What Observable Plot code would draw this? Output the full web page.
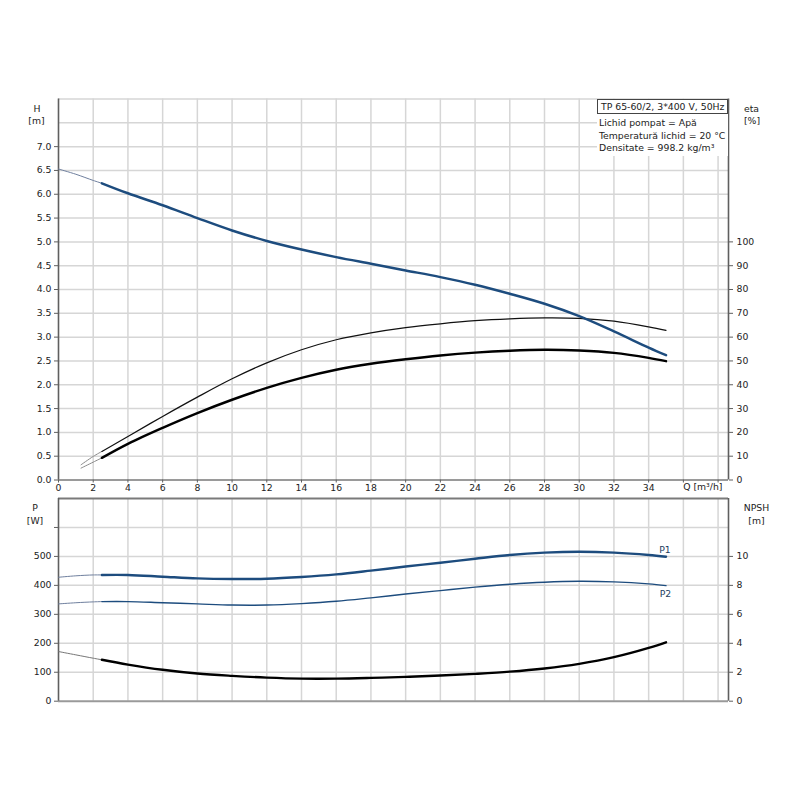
<!DOCTYPE html>
<html><head><meta charset="utf-8">
<script src="https://cdn.jsdelivr.net/npm/d3@7"></script>
<script src="https://cdn.jsdelivr.net/npm/@observablehq/plot@0.6"></script>
<style>
body{margin:0;background:#fff;}
#wrap{position:relative;width:800px;height:800px;font-family:"DejaVu Sans",sans-serif;}
#wrap svg{display:block;}
#info{position:absolute;left:597px;top:99px;width:131px;height:57px;background:#fff;font-size:9.3px;color:#222;line-height:12.5px;}
#info .box{border:1px solid #444;height:13px;line-height:13px;padding-left:3px;margin-bottom:3px;white-space:nowrap;}
#info .ln{padding-left:2px;white-space:nowrap;}
</style>
</head><body>
<div id="wrap"></div>
<script>
// ---- data ----
const qExt = [0, 1, 2, 2.5];
const qEtaExt = [1.3, 2, 2.5];
const qMain = [2.5, 4, 6, 8, 10, 12, 14, 16, 18, 20, 22, 24, 26, 28, 30, 32, 34, 35];

const headExt = [6.53, 6.42, 6.29, 6.23];
const headMain = [6.23, 6.02, 5.77, 5.50, 5.24, 5.02, 4.84, 4.68, 4.54, 4.40, 4.26, 4.10, 3.91, 3.70, 3.44, 3.12, 2.78, 2.62];

const etaPumpExt = [6.4, 9.9, 12.0];
const etaPumpMain = [12.0, 18.3, 26.7, 34.8, 42.5, 49.2, 54.7, 58.9, 61.8, 64.0, 65.6, 66.9, 67.7, 68.1, 67.9, 66.7, 64.3, 62.8];

const etaTotExt = [5.0, 7.5, 9.3];
const etaTotMain = [9.3, 15.2, 21.9, 28.1, 33.7, 38.7, 42.9, 46.3, 48.8, 50.7, 52.3, 53.5, 54.3, 54.7, 54.4, 53.4, 51.3, 49.9];

const p1Ext = [428, 433, 436, 436];
const p1Main = [436, 436, 430, 424, 422, 423, 429, 438, 451, 465, 478, 492, 505, 513, 516, 513, 505, 499];

const p2Ext = [336, 340, 343, 344];
const p2Main = [344, 344, 340, 336, 332, 332, 337, 345, 357, 370, 382, 394, 404, 411, 414, 412, 405, 399];

const npshExt = [3.43, 3.20, 2.97, 2.86];
const npshMain = [2.86, 2.53, 2.17, 1.91, 1.75, 1.63, 1.56, 1.56, 1.61, 1.68, 1.77, 1.89, 2.04, 2.26, 2.58, 3.04, 3.68, 4.07];

// ---- axes ----
const xDomain = [0, 38.6];
const xTicks = d3.range(0, 39, 2);
const hDomain = [0, 8];
const hTicks = d3.range(0, 8.01, 0.5);
const hLabelMax = 7.0;
const etaTicks = d3.range(0, 101, 10);
const etaPerM = 20;           // right axis: eta [%] = 20 x H [m]
const pDomain = [0, 700];
const pTicks = d3.range(0, 701, 100);
const pLabelMax = 500;
const npshTicks = d3.range(0, 11, 2);
const wPerNpsh = 50;          // right axis: NPSH [m] = P [W] / 50

const infoTitle = "TP 65-60/2, 3*400 V, 50Hz";
const infoLines = ["Lichid pompat = Apă", "Temperatură lichid = 20 °C", "Densitate = 998.2 kg/m³"];

const zip = (qs, vs) => qs.map((q, i) => ({q, v: vs[i]}));

const BLUE = "#1d4c7e";
const GRID = "#d6d6d6";
const AX = "#5f5f5f";
const FS = 9.3;
const CURVE = "catmull-rom";
const font = {fontFamily: "DejaVu Sans, sans-serif", fontSize: FS + "px", color: "#222", background: "transparent", overflow: "visible"};

const gridOpts = {stroke: GRID, strokeOpacity: 1, strokeWidth: 1.5};

const topPlot = Plot.plot({
  width: 800, height: 494,
  marginLeft: 58, marginRight: 72, marginTop: 98.5, marginBottom: 14.5,
  style: font,
  x: {domain: xDomain, axis: null},
  y: {domain: hDomain, axis: null},
  marks: [
    Plot.gridX(xTicks.filter(d => d > 0), gridOpts),
    Plot.gridY(hTicks.filter(d => d > 0), gridOpts),
    Plot.ruleY([hDomain[0]], {stroke: "#9a9a9a", strokeWidth: 2}),
    Plot.ruleX([xDomain[0]], {stroke: AX, strokeWidth: 1.6}),
    Plot.ruleX([xDomain[1]], {stroke: AX, strokeWidth: 1.6}),
    Plot.axisY(hTicks.filter(d => d <= hLabelMax), {anchor: "left", tickFormat: d3.format(".1f"), tickSize: 4, tickPadding: 3, stroke: AX, fill: "#222", label: null}),
    Plot.axisY(etaTicks.map(e => e / etaPerM), {anchor: "right", tickFormat: d => Math.round(d * etaPerM), tickSize: 4, tickPadding: 4, stroke: AX, fill: "#222", label: null}),
    Plot.axisX(xTicks, {anchor: "bottom", tickFormat: d => d <= 34 ? d : "", tickSize: 3, tickPadding: 1, stroke: AX, fill: "#222", label: null}),
    // eta curves
    Plot.line(zip(qEtaExt, etaPumpExt), {x: "q", y: d => d.v / etaPerM, stroke: "#8a8a8a", strokeWidth: 1, curve: CURVE}),
    Plot.line(zip(qMain, etaPumpMain), {x: "q", y: d => d.v / etaPerM, stroke: "#111", strokeWidth: 1.2, curve: CURVE}),
    Plot.line(zip(qEtaExt, etaTotExt), {x: "q", y: d => d.v / etaPerM, stroke: "#8a8a8a", strokeWidth: 1, curve: CURVE}),
    Plot.line(zip(qMain, etaTotMain), {x: "q", y: d => d.v / etaPerM, stroke: "#000", strokeWidth: 2.4, curve: CURVE}),
    // head curve
    Plot.line(zip(qExt, headExt), {x: "q", y: "v", stroke: "#6f7f9e", strokeWidth: 1, curve: CURVE}),
    Plot.line(zip(qMain, headMain), {x: "q", y: "v", stroke: BLUE, strokeWidth: 2.5, curve: CURVE}),
    // axis titles
    Plot.text(["H"], {frameAnchor: "top-left", dx: -21.5, dy: 6.5, textAnchor: "middle", fill: "#222", fontSize: FS}),
    Plot.text(["[m]"], {frameAnchor: "top-left", dx: -22, dy: 18.5, textAnchor: "middle", fill: "#222", fontSize: FS}),
    Plot.text(["eta"], {frameAnchor: "top-right", dx: 23, dy: 6.5, textAnchor: "middle", fill: "#222", fontSize: FS}),
    Plot.text(["[%]"], {frameAnchor: "top-right", dx: 23.5, dy: 18.5, textAnchor: "middle", fill: "#222", fontSize: FS}),
    Plot.text(["Q [m³/h]"], {frameAnchor: "bottom-right", dx: -6, dy: 9.5, textAnchor: "end", fill: "#222", fontSize: FS})
  ]
});

const botPlot = Plot.plot({
  width: 800, height: 306,
  marginLeft: 58, marginRight: 72, marginTop: 4, marginBottom: 99.3,
  style: font,
  x: {domain: xDomain, axis: null},
  y: {domain: pDomain, axis: null},
  marks: [
    Plot.gridX(xTicks.filter(d => d > 0), gridOpts),
    Plot.gridY(pTicks.filter(d => d > 0 && d < pDomain[1]), gridOpts),
    Plot.ruleY([pDomain[0]], {stroke: "#9a9a9a", strokeWidth: 2}),
    Plot.ruleY([pDomain[1]], {stroke: "#7a7a7a", strokeWidth: 2}),
    Plot.ruleX([xDomain[0]], {stroke: AX, strokeWidth: 1.6}),
    Plot.ruleX([xDomain[1]], {stroke: AX, strokeWidth: 1.6}),
    Plot.axisY(pTicks.filter(d => d < pDomain[1]), {anchor: "left", tickFormat: d => d <= pLabelMax ? d : "", tickSize: 4, tickPadding: 3, stroke: AX, fill: "#222", label: null}),
    Plot.axisY(npshTicks.map(n => n * wPerNpsh), {anchor: "right", tickFormat: d => Math.round(d / wPerNpsh), tickSize: 4, tickPadding: 4, stroke: AX, fill: "#222", label: null}),
    // NPSH
    Plot.line(zip(qExt, npshExt), {x: "q", y: d => d.v * wPerNpsh, stroke: "#777", strokeWidth: 1, curve: CURVE}),
    Plot.line(zip(qMain, npshMain), {x: "q", y: d => d.v * wPerNpsh, stroke: "#000", strokeWidth: 2.4, curve: CURVE}),
    // P2
    Plot.line(zip(qExt, p2Ext), {x: "q", y: "v", stroke: "#6f7f9e", strokeWidth: 1, curve: CURVE}),
    Plot.line(zip(qMain, p2Main), {x: "q", y: "v", stroke: BLUE, strokeWidth: 1.4, curve: CURVE}),
    // P1
    Plot.line(zip(qExt, p1Ext), {x: "q", y: "v", stroke: "#6f7f9e", strokeWidth: 1, curve: CURVE}),
    Plot.line(zip(qMain, p1Main), {x: "q", y: "v", stroke: BLUE, strokeWidth: 2.4, curve: CURVE}),
    Plot.text(zip(qMain, p1Main).slice(-1), {x: "q", y: "v", text: () => "P1", dx: -1, dy: -7, fill: "#1d3d5e", fontSize: FS}),
    Plot.text(zip(qMain, p2Main).slice(-1), {x: "q", y: "v", text: () => "P2", dx: -0.5, dy: 8, fill: "#1d3d5e", fontSize: FS}),
    // axis titles
    Plot.text(["P"], {frameAnchor: "top-left", dx: -23.5, dy: 5.5, textAnchor: "middle", fill: "#222", fontSize: FS}),
    Plot.text(["[W]"], {frameAnchor: "top-left", dx: -23.5, dy: 18.5, textAnchor: "middle", fill: "#222", fontSize: FS}),
    Plot.text(["NPSH"], {frameAnchor: "top-right", dx: 28, dy: 6, textAnchor: "middle", fill: "#222", fontSize: FS}),
    Plot.text(["[m]"], {frameAnchor: "top-right", dx: 28, dy: 18.5, textAnchor: "middle", fill: "#222", fontSize: FS})
  ]
});

const wrap = document.getElementById("wrap");
wrap.appendChild(topPlot);
wrap.appendChild(botPlot);

const info = document.createElement("div");
info.id = "info";
const box = document.createElement("div");
box.className = "box";
box.textContent = infoTitle;
info.appendChild(box);
for (const t of infoLines) {
  const d = document.createElement("div");
  d.className = "ln";
  d.textContent = t;
  info.appendChild(d);
}
wrap.appendChild(info);
</script>
</body></html>
